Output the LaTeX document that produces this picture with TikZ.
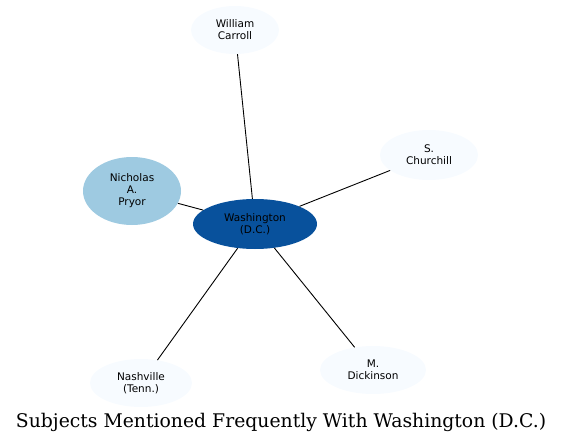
\documentclass[tikz,border=0pt]{standalone}
\usepackage{fontspec}
\setmainfont{DejaVu Sans}
\newfontfamily\titlefont{DejaVu Serif}
\usetikzlibrary{shapes.geometric}
\definecolor{hub}{HTML}{08519C}
\definecolor{mid}{HTML}{9ECAE1}
\definecolor{pale}{HTML}{F7FBFF}
\tikzset{
  ent/.style={ellipse, inner sep=0pt, font=\fontsize{10.5}{12}\selectfont, align=center, text=black},
  link/.style={draw=black, line width=0.9pt}
}
\begin{document}
\begin{tikzpicture}[x=1pt,y=-1pt]
\useasboundingbox (0,0) rectangle (563,444);
\node[ent, fill=pale, minimum width=88, minimum height=48] (carroll) at (235,30) {William\\Carroll};
\node[ent, fill=pale, minimum width=98, minimum height=50] (churchill) at (429,155) {S.\\Churchill};
\node[ent, fill=mid, minimum width=98, minimum height=68] (pryor) at (132,191) {Nicholas\\A.\\Pryor};
\node[ent, fill=pale, minimum width=102, minimum height=48] (nashville) at (141,383) {Nashville\\(Tenn.)};
\node[ent, fill=pale, minimum width=106, minimum height=48] (dickinson) at (373,370) {M.\\Dickinson};
\node[ent, fill=hub, minimum width=124, minimum height=50] (wash) at (255,224) {Washington\\(D.C.)};
\draw[link] (wash) -- (carroll);
\draw[link] (wash) -- (churchill);
\draw[link] (wash) -- (pryor);
\draw[link] (wash) -- (nashville);
\draw[link] (wash) -- (dickinson);
\node[font=\titlefont\fontsize{18.8}{22}\selectfont, inner sep=0pt] (title) at (281,422) {Subjects Mentioned Frequently With Washington (D.C.)};
\end{tikzpicture}
\end{document}
